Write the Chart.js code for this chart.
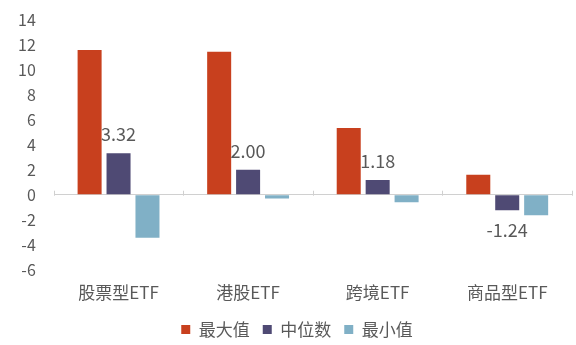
<!DOCTYPE html>
<html>
<head>
<meta charset="utf-8">
<script src="https://cdn.jsdelivr.net/npm/chart.js@4.4.1/dist/chart.umd.min.js"></script>
<style>
    html, body { margin: 0; padding: 0; background: #fff; }
    #wrap { width: 576px; height: 345px; }
</style>
</head>
<body>
<div id="wrap"><canvas id="c"></canvas></div>
<script>
const categories = ['股票型ETF', '港股ETF', '跨境ETF', '商品型ETF'];
const maxVals = [11.6, 11.45, 5.35, 1.6];
const medianVals = [3.32, 2.00, 1.18, -1.24];
const minVals = [-3.45, -0.3, -0.6, -1.65];
const yTicks = { min: -6, max: 14, step: 2 };

const FONT = '"Noto Sans CJK SC", "Noto Sans", sans-serif';
const GREY = '#595959';

// labels on the median bars only
const medianLabels = {
    id: 'medianLabels',
    afterDatasetsDraw(chart) {
        const ctx = chart.ctx;
        const meta = chart.getDatasetMeta(1);
        ctx.save();
        ctx.font = '18px ' + FONT;
        ctx.fillStyle = GREY;
        ctx.textAlign = 'center';
        ctx.textBaseline = 'middle';
        meta.data.forEach((bar, i) => {
            const v = medianVals[i];
            const y = v >= 0 ? bar.y - 19 : bar.y + 20;
            ctx.fillText(v.toFixed(2), bar.x, y);
        });
        ctx.restore();
    }
};

// small category ticks on the zero line
const zeroTicks = {
    id: 'zeroTicks',
    afterDraw(chart) {
        const ctx = chart.ctx;
        const xs = chart.scales.x;
        const y0 = chart.scales.y.getPixelForValue(0);
        const w = (xs.right - xs.left) / categories.length;
        ctx.save();
        ctx.strokeStyle = '#d0d0d0';
        ctx.lineWidth = 1;
        for (let i = 0; i <= categories.length; i++) {
            const x = Math.round(xs.left + i * w) + 0.5;
            ctx.beginPath();
            ctx.moveTo(x, y0 - 4);
            ctx.lineTo(x, y0 + 1);
            ctx.stroke();
        }
        ctx.restore();
    }
};

// legend sits a little right of the canvas centre and close under the labels
const legendShift = {
    id: 'legendShift',
    afterLayout(chart) {
        const lg = chart.legend;
        lg.left += 11;
        lg.right += 11;
        lg.top -= 8;
        lg.bottom -= 8;
    }
};

const ctx = document.getElementById('c').getContext('2d');
const chart = new Chart(ctx, {
    type: 'bar',
    data: {
        labels: categories,
        datasets: [
            { label: '最大值', data: maxVals, backgroundColor: '#c8401e' },
            { label: '中位数', data: medianVals, backgroundColor: '#4f4a74' },
            { label: '最小值', data: minVals, backgroundColor: '#80b0c6' }
        ]
    },
    options: {
        responsive: true,
        maintainAspectRatio: false,
        animation: false,
        layout: { padding: { top: 20, right: 4, left: 0, bottom: -11 } },
        datasets: {
            bar: { barPercentage: 0.83, categoryPercentage: 0.67 }
        },
        plugins: {
            legend: {
                position: 'bottom',
                labels: {
                    font: { family: FONT, size: 17 },
                    color: GREY,
                    boxWidth: 9,
                    boxHeight: 9,
                    padding: 13
                }
            },
            tooltip: { enabled: false }
        },
        scales: {
            x: {
                grid: { display: false, drawTicks: false },
                border: { display: false },
                ticks: {
                    font: { family: FONT, size: 17 },
                    color: GREY,
                    padding: 13
                }
            },
            y: {
                min: yTicks.min,
                max: yTicks.max,
                border: { display: false },
                afterFit: function (scale) {
                    scale.paddingTop = 0;
                    scale.paddingBottom = 0;
                },
                grid: {
                    drawTicks: false,
                    lineWidth: function (context) {
                        return context.tick.value == 0 ? 1 : 0;
                    },
                    color: function (context) {
                        return context.tick.value == 0 ? '#d0d0d0' : 'rgba(0,0,0,0)';
                    }
                },
                ticks: {
                    stepSize: yTicks.step,
                    font: { family: FONT, size: 16 },
                    color: GREY,
                    padding: 18
                }
            }
        }
    },
    plugins: [medianLabels, zeroTicks, legendShift]
});
</script>
</body>
</html>
